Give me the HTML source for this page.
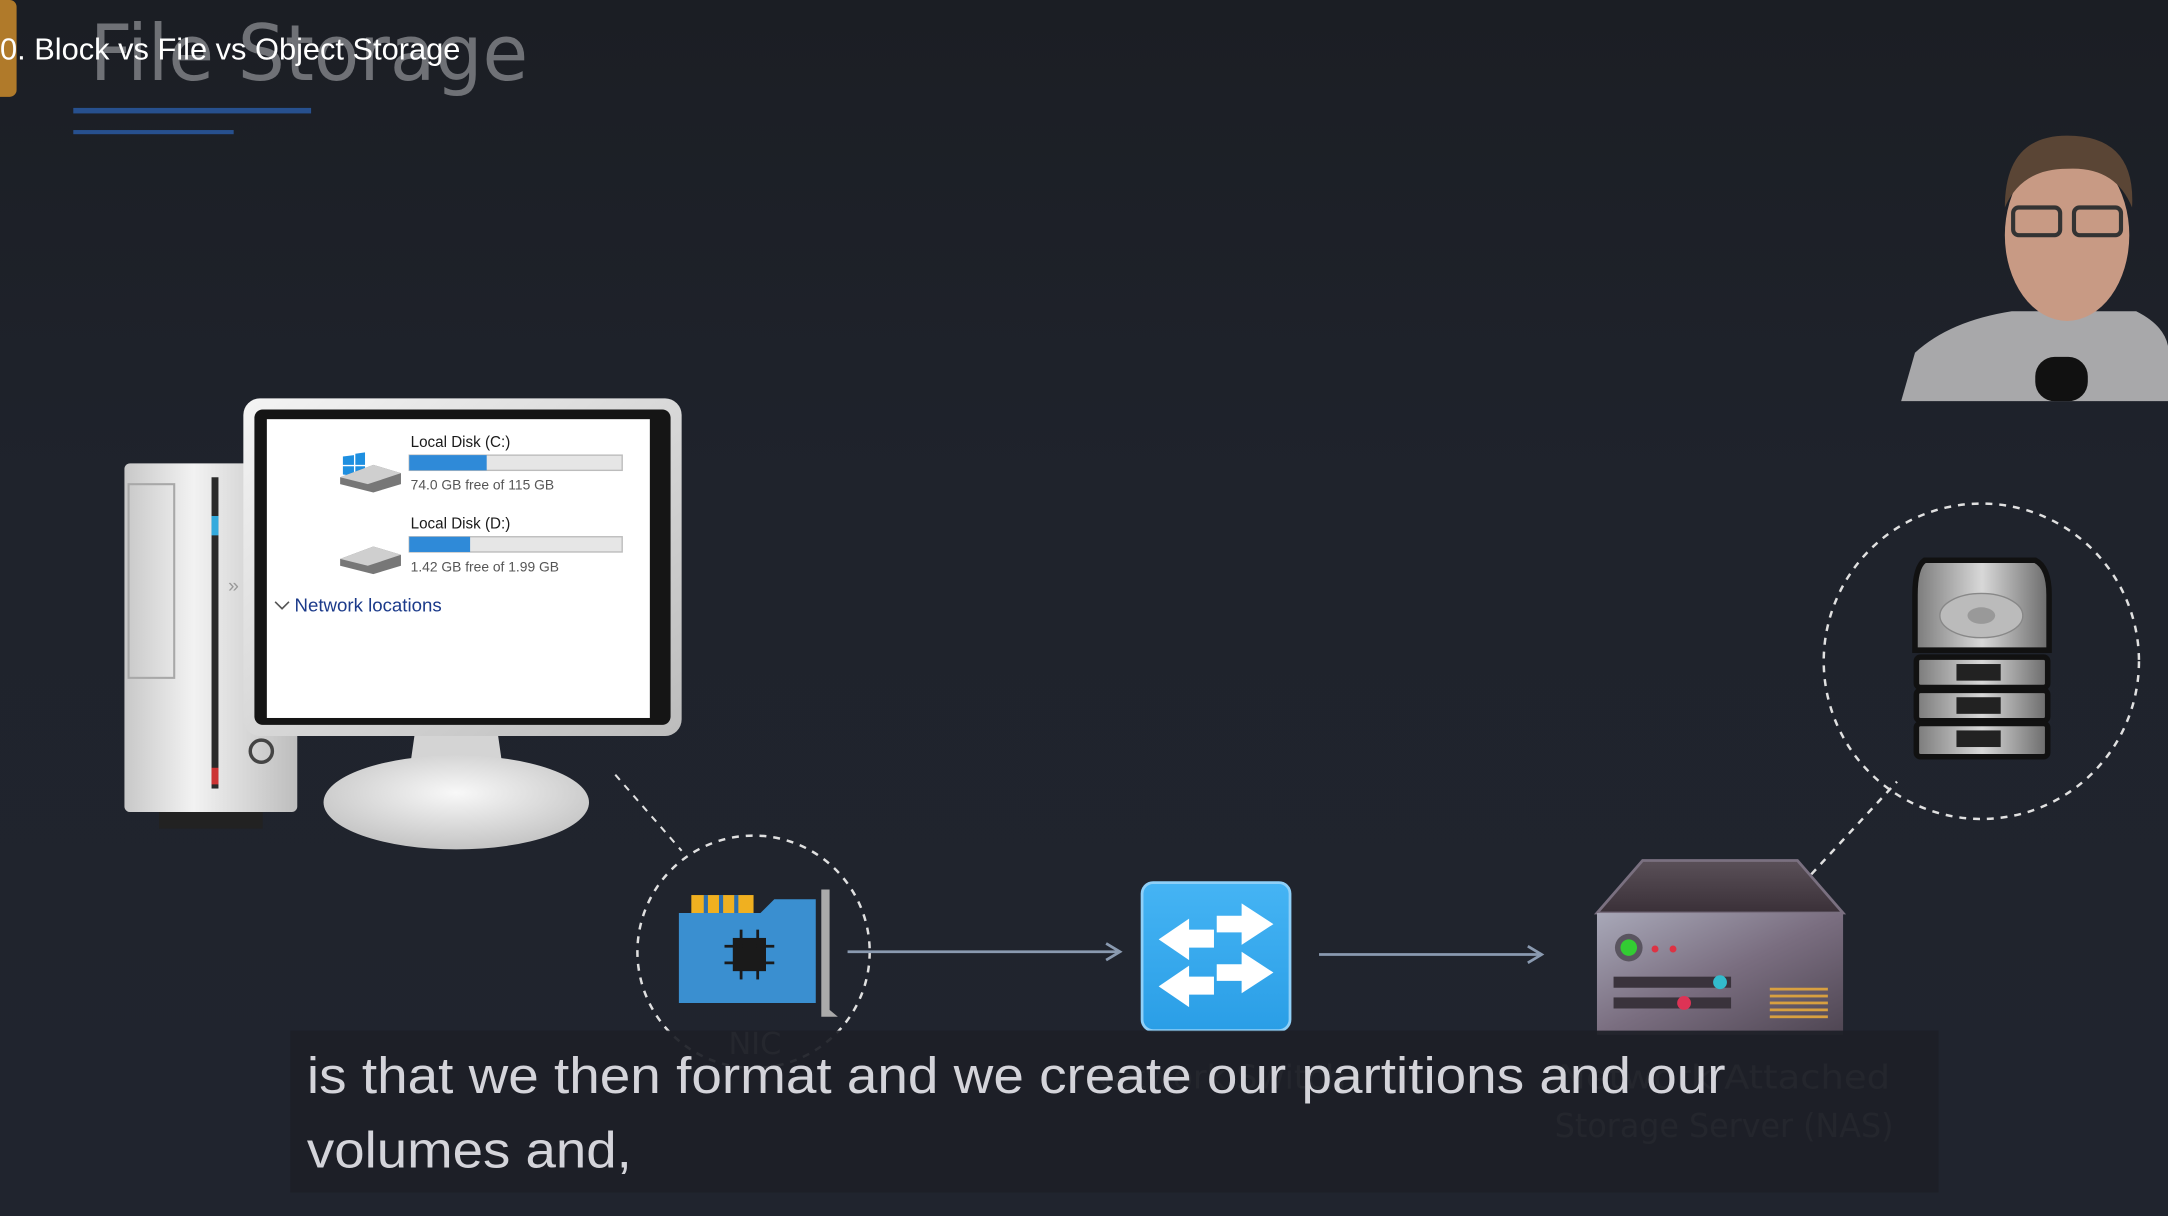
<!DOCTYPE html>
<html><head><meta charset="utf-8"><style>
html,body{margin:0;padding:0;background:#1e222b;overflow:hidden}
svg{display:block}
</style></head><body>
<svg width="2168" height="1216" viewBox="0 0 1568 879" preserveAspectRatio="none" xmlns="http://www.w3.org/2000/svg" font-family="Liberation Sans, sans-serif">
<defs>
<linearGradient id="bg" x1="0" y1="0" x2="0" y2="1"><stop offset="0" stop-color="#1b1e24"/><stop offset="0.4" stop-color="#1f232c"/><stop offset="1" stop-color="#20242e"/></linearGradient>
<linearGradient id="silver" x1="0" y1="0" x2="1" y2="0"><stop offset="0" stop-color="#c8c8c8"/><stop offset="0.4" stop-color="#f2f2f2"/><stop offset="1" stop-color="#bdbdbd"/></linearGradient>
<linearGradient id="bez" x1="0" y1="0" x2="1" y2="1"><stop offset="0" stop-color="#f4f4f4"/><stop offset="1" stop-color="#bcbcbc"/></linearGradient>
<radialGradient id="base" cx="0.5" cy="0.4" r="0.6"><stop offset="0" stop-color="#f8f8f8"/><stop offset="1" stop-color="#c4c4c4"/></radialGradient>
<linearGradient id="nas" x1="0" y1="0" x2="1" y2="1"><stop offset="0" stop-color="#a8a8b8"/><stop offset="0.5" stop-color="#7a6e80"/><stop offset="1" stop-color="#4e4552"/></linearGradient>
<linearGradient id="nastop" x1="0" y1="0" x2="0" y2="1"><stop offset="0" stop-color="#5a5058"/><stop offset="1" stop-color="#3a3038"/></linearGradient>
<linearGradient id="hdd" x1="0" y1="0" x2="1" y2="0"><stop offset="0" stop-color="#7a7a7a"/><stop offset="0.5" stop-color="#d8d8d8"/><stop offset="1" stop-color="#6a6a6a"/></linearGradient>
<linearGradient id="sw" x1="0" y1="0" x2="0" y2="1"><stop offset="0" stop-color="#45b4f4"/><stop offset="1" stop-color="#2a9ee6"/></linearGradient>
</defs>
<rect width="1568" height="879" fill="url(#bg)"/>

<!-- title -->
<rect x="-6" y="0" width="18" height="70" rx="5" fill="#b07a2a"/>
<text x="65" y="58" font-family="DejaVu Sans, sans-serif" font-size="56" fill="#6f7176" textLength="317" lengthAdjust="spacingAndGlyphs">File Storage</text>
<text x="0" y="43" font-size="22" fill="#ffffff" textLength="333" lengthAdjust="spacingAndGlyphs">0. Block vs File vs Object Storage</text>
<rect x="53" y="78" width="172" height="4" fill="#27508e"/>
<rect x="53" y="94" width="116" height="3" fill="#27508e"/>

<!-- webcam -->
<g>
<path d="M1375 290 L1385 255 Q1410 232 1455 225 L1545 225 Q1565 235 1568 250 L1568 290 Z" fill="#a8a8aa"/>
<ellipse cx="1495" cy="170" rx="45" ry="62" fill="#c89a84"/>
<path d="M1450 150 Q1450 98 1495 98 Q1545 98 1542 150 Q1530 120 1495 122 Q1462 122 1450 150 Z" fill="#5a4535"/>
<rect x="1456" y="150" width="34" height="20" rx="4" fill="none" stroke="#333" stroke-width="3"/>
<rect x="1500" y="150" width="34" height="20" rx="4" fill="none" stroke="#333" stroke-width="3"/>
<rect x="1472" y="258" width="38" height="32" rx="14" fill="#111"/>
</g>

<!-- tower -->
<rect x="90" y="335" width="125" height="252" rx="4" fill="url(#silver)"/>
<rect x="93" y="350" width="33" height="140" fill="none" stroke="#a8a8a8" stroke-width="1.5"/>
<rect x="153" y="345" width="5" height="225" fill="#2a2a2a"/>
<rect x="153" y="373" width="5" height="14" fill="#3ad"/>
<rect x="153" y="555" width="5" height="12" fill="#c33"/>
<circle cx="189" cy="543" r="8" fill="none" stroke="#444" stroke-width="2.5"/>
<text x="165" y="428" font-size="14" fill="#999">»</text>
<rect x="115" y="587" width="75" height="12" fill="#222"/>

<!-- monitor -->
<path d="M300 530 L360 530 L365 565 L295 565 Z" fill="#d4d4d4"/>
<ellipse cx="330" cy="580" rx="96" ry="34" fill="url(#base)"/>
<rect x="176" y="288" width="317" height="244" rx="12" fill="url(#bez)"/>
<rect x="184" y="296" width="301" height="228" rx="6" fill="#151515"/>
<rect x="193" y="303" width="277" height="216" fill="#ffffff"/>
<g font-size="11" fill="#1a1a1a">
<path d="M248 330 L256 329 L256 336 L248 336 Z M257 328 L264 327 L264 336 L257 336 Z M248 337 L256 337 L256 344 L248 343 Z M257 337 L264 337 L264 345 L257 344 Z" fill="#1e8fe0"/>
<path d="M246 345 L270 336 L290 342 L290 350 L270 356 L246 350 Z" fill="#777"/>
<path d="M246 345 L270 336 L290 342 L266 350 Z" fill="#cfcfcf"/>
<text x="297" y="323">Local Disk (C:)</text>
<rect x="296" y="329" width="154" height="11" fill="#e6e6e6" stroke="#bcbcbc"/>
<rect x="296" y="329" width="56" height="11" fill="#2f8ad8"/>
<text x="297" y="354" font-size="10" fill="#555">74.0 GB free of 115 GB</text>
<path d="M246 404 L270 395 L290 401 L290 409 L270 415 L246 409 Z" fill="#777"/>
<path d="M246 404 L270 395 L290 401 L266 409 Z" fill="#cfcfcf"/>
<text x="297" y="382">Local Disk (D:)</text>
<rect x="296" y="388" width="154" height="11" fill="#e6e6e6" stroke="#bcbcbc"/>
<rect x="296" y="388" width="44" height="11" fill="#2f8ad8"/>
<text x="297" y="413" font-size="10" fill="#555">1.42 GB free of 1.99 GB</text>
<path d="M199 435 L204 440 L209 435" fill="none" stroke="#555" stroke-width="1.2"/>
<text x="213" y="442" font-size="13.5" fill="#1b3a8a">Network locations</text>
</g>

<!-- dashed connectors -->
<line x1="445" y1="560" x2="493" y2="615" stroke="#e0e0e0" stroke-width="1.5" stroke-dasharray="5,5"/>
<circle cx="545" cy="688" r="84" fill="none" stroke="#e0e0e0" stroke-width="1.8" stroke-dasharray="5,5"/>
<line x1="1310" y1="632" x2="1372" y2="565" stroke="#e0e0e0" stroke-width="1.8" stroke-dasharray="5,5"/>
<circle cx="1433" cy="478" r="114" fill="none" stroke="#e0e0e0" stroke-width="1.8" stroke-dasharray="5,5"/>

<!-- NIC -->
<rect x="500" y="647" width="45" height="16" fill="#f0b020"/>
<g fill="#2c6fb0"><rect x="509" y="647" width="3" height="13"/><rect x="520" y="647" width="3" height="13"/><rect x="531" y="647" width="3" height="13"/></g>
<path d="M491 660 L550 660 L560 650 L590 650 L590 725 L491 725 Z" fill="#3a8fd0"/>
<rect x="530" y="678" width="24" height="24" fill="#1a1a1a"/>
<g stroke="#1a1a1a" stroke-width="2"><line x1="524" y1="684" x2="560" y2="684"/><line x1="524" y1="696" x2="560" y2="696"/><line x1="536" y1="672" x2="536" y2="708"/><line x1="548" y1="672" x2="548" y2="708"/></g>
<path d="M594 643 L600 643 L600 730 L606 735 L594 735 Z" fill="#aaa"/>
<text x="546" y="762" font-size="22" fill="#8a8a8a" text-anchor="middle" font-family="DejaVu Sans, sans-serif">NIC</text>

<!-- arrows -->
<g stroke="#8a9ab0" stroke-width="2" fill="none">
<line x1="613" y1="688" x2="809" y2="688"/><path d="M800 682 L810 688 L800 694"/>
<line x1="954" y1="690" x2="1114" y2="690"/><path d="M1105 684 L1115 690 L1105 696"/>
</g>

<!-- switch -->
<rect x="826" y="638" width="107" height="107" rx="8" fill="url(#sw)" stroke="#8fd0f8" stroke-width="2"/>
<g fill="#fff">
<path d="M880 662 L898 662 L898 653 L921 668 L898 683 L898 674 L880 674 Z"/>
<path d="M878 672 L860 672 L860 664 L838 679 L860 694 L860 685 L878 685 Z"/>
<path d="M880 697 L898 697 L898 688 L921 703 L898 718 L898 709 L880 709 Z"/>
<path d="M878 706 L860 706 L860 698 L838 713 L860 728 L860 719 L878 719 Z"/>
</g>
<text x="880" y="787" font-size="24" fill="#7a7a7a" text-anchor="middle" font-family="DejaVu Sans, sans-serif">Network Switch</text>

<!-- NAS -->
<path d="M1188 622 L1300 622 L1333 660 L1155 660 Z" fill="url(#nastop)" stroke="#7a7080" stroke-width="2"/>
<rect x="1155" y="660" width="178" height="88" fill="url(#nas)"/>
<circle cx="1178" cy="685" r="10" fill="#5a5560"/>
<circle cx="1178" cy="685" r="6" fill="#3c3"/>
<circle cx="1197" cy="686" r="2.5" fill="#d34"/><circle cx="1210" cy="686" r="2.5" fill="#d34"/>
<rect x="1167" y="706" width="85" height="8" fill="#3a333c"/>
<circle cx="1244" cy="710" r="5" fill="#3bc"/>
<rect x="1167" y="721" width="85" height="8" fill="#3a333c"/>
<circle cx="1218" cy="725" r="5" fill="#d35"/>
<g fill="#d8a040"><rect x="1280" y="714" width="42" height="2"/><rect x="1280" y="719" width="42" height="2"/><rect x="1280" y="724" width="42" height="2"/><rect x="1280" y="729" width="42" height="2"/><rect x="1280" y="734" width="42" height="2"/></g>
<g font-size="24" fill="#7a7a7a" text-anchor="middle" font-family="DejaVu Sans, sans-serif">
<text x="1247" y="787" textLength="240" lengthAdjust="spacingAndGlyphs">Network Attached</text>
<text x="1247" y="822" textLength="245" lengthAdjust="spacingAndGlyphs">Storage Server (NAS)</text>
</g>

<!-- HDD -->
<path d="M1392 405 L1472 405 Q1482 410 1482 430 L1482 470 L1385 470 L1385 430 Q1385 410 1392 405 Z" fill="url(#hdd)" stroke="#111" stroke-width="4"/>
<ellipse cx="1433" cy="445" rx="30" ry="16" fill="#bbb" stroke="#888"/>
<ellipse cx="1433" cy="445" rx="10" ry="6" fill="#999"/>
<g stroke="#111" stroke-width="4" fill="url(#hdd)">
<rect x="1386" y="475" width="95" height="22" rx="3"/>
<rect x="1386" y="499" width="95" height="22" rx="3"/>
<rect x="1386" y="523" width="95" height="24" rx="3"/>
</g>
<g fill="#222"><rect x="1415" y="480" width="32" height="12"/><rect x="1415" y="504" width="32" height="12"/><rect x="1415" y="528" width="32" height="12"/></g>

<!-- subtitle -->
<rect x="210" y="745" width="1192" height="117" fill="#1d1f27" fill-opacity="0.93"/>
<g font-size="37" fill="#d4d4da">
<text x="222" y="790" textLength="1026" lengthAdjust="spacingAndGlyphs">is that we then format and we create our partitions and our</text>
<text x="222" y="844" textLength="235" lengthAdjust="spacingAndGlyphs">volumes and,</text>
</g>
</svg>
</body></html>
